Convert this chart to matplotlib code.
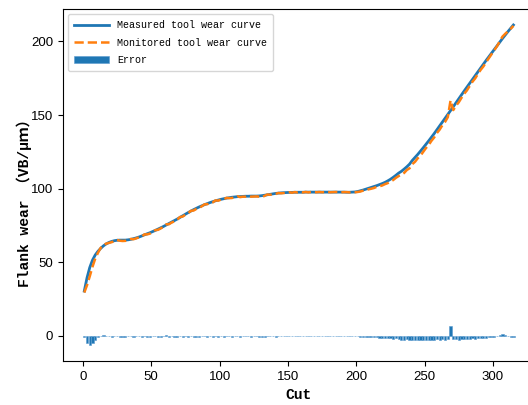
import numpy as np
import matplotlib
matplotlib.use("Agg")
import matplotlib.pyplot as plt

# Cut numbers (every second cut)
cuts = np.arange(1, 316, 2)

# Measured tool wear (VB, um)
measured = [
    30.5, 39.5, 46.5, 51.5, 55.0, 57.5, 59.5, 61.2, 62.5, 63.5,      # 1-19
    64.2, 64.7, 65.0, 65.1, 65.1, 65.1, 65.3, 65.6, 66.1, 66.6,      # 21-39
    67.2, 67.9, 68.7, 69.4, 70.1, 70.9, 71.7, 72.6, 73.5, 74.4,      # 41-59
    75.4, 76.4, 77.4, 78.4, 79.4, 80.5, 81.6, 82.7, 83.8, 84.8,      # 61-79
    85.8, 86.7, 87.6, 88.4, 89.2, 89.9, 90.6, 91.2, 91.8, 92.3,      # 81-99
    92.8, 93.2, 93.6, 93.9, 94.2, 94.4, 94.6, 94.7, 94.8, 94.9,      # 101-119
    94.9, 95.0, 95.0, 95.0, 95.1, 95.3, 95.6, 95.9, 96.2, 96.5,      # 121-139
    96.8, 97.0, 97.2, 97.3, 97.4, 97.5, 97.5, 97.6,                  # 141-155
    97.6, 97.6, 97.6, 97.7, 97.7, 97.7, 97.7, 97.7, 97.7, 97.7,      # 157-175
    97.7, 97.7, 97.7, 97.7, 97.7, 97.7, 97.7, 97.7, 97.6, 97.6,      # 177-195
    97.7, 97.8,                                                      # 197-199
    98.1, 98.6, 99.1, 99.7, 100.3, 100.9, 101.5, 102.1, 102.8, 103.5,  # 201-219
    104.3, 105.3, 106.4, 107.7, 109.1, 110.6, 111.8, 113.3, 114.9, 116.7,  # 221-239
    119.2, 121.2, 123.3, 125.5, 127.8, 130.1, 132.5, 134.9, 137.4, 140.0,  # 241-259
    142.6, 145.2, 147.8, 150.4, 153.0, 155.7, 158.4, 161.1, 163.8, 166.4,  # 261-279
    169.0, 171.6, 174.2, 176.8, 179.4, 182.0, 184.6, 187.1, 189.6, 192.1,  # 281-299
    194.6, 197.1, 199.6, 202.0, 204.4, 206.7, 209.0, 211.2,                # 301-315
]

# Monitoring error (monitored - measured)
error = [
    -1.0, -5.0, -6.0, -4.5, -2.5, -1.0, 0.3, 0.5, 0.2, -0.3,
    -0.5, -0.3, 0.2, -0.4, -0.6, -0.5, -0.2, 0.3, -0.4, -0.3,
    -0.2, -0.5, 0.3, -0.4, -0.6, -0.3, 0.2, -0.5, -0.4, -0.3,
    0.4, -0.5, -0.3, -0.6, -0.4, 0.3, -0.5, -0.3, -0.4, 0.2,
    -0.6, -0.4, -0.7, -0.3, 0.2, -0.4, -0.3, -0.5, 0.3, -0.4,
    -0.2, -0.5, 0.2, -0.3, -0.5, -0.2, 0.3, -0.4, -0.2, -0.3,
    0.2, -0.4, -0.3, -0.2, -0.5, -1.0, -0.4, 0.2, -0.3, -0.2,
    -0.4, 0.1, -0.3, -0.2, -0.1,
    0.1, -0.2, 0.1, -0.1, 0.2, -0.1, 0.1, -0.2, 0.1, 0.0,
    -0.1, 0.1, -0.1, 0.0, 0.1, -0.1, 0.0, 0.1, 0.0, -0.1,
    0.0, 0.1, -0.1, 0.0, -0.2,
    -0.3, -0.5, -0.4, -0.6, -0.7, -0.9, -1.0, -0.8, -1.1, -1.3,
    -1.2, -1.5, -1.6, -1.8, -1.7, -2.0, -2.4, -2.6, -2.2, -2.8,
    -2.5, -2.9, -2.6, -3.0, -2.7, -2.5, -2.8, -2.4, -2.6, -2.2,
    -2.5, -2.1, -2.4, -1.8, 7.0, -2.3, -2.0, -2.4, -2.1, -1.9,
    -2.2, -1.8, -1.6, -1.9, -1.5, -1.3, -1.6, -1.2, -1.0, -0.8,
    -0.6, -0.3, 0.4, 1.3, 0.8, 0.2, -0.4, -0.6,
]

measured = np.array(measured)
error = np.array(error)
monitored = measured + error

label_font = ['Liberation Mono', 'Noto Sans CJK SC', 'DejaVu Sans']

fig = plt.figure(figsize=(5.28, 4.05), dpi=100)
ax = fig.add_axes([0.119, 0.1086, 0.894, 0.869])

ax.plot(cuts, measured, color='#1f77b4', lw=2.0, label='Measured tool wear curve')
ax.plot(cuts, monitored, color='#ff7f0e', lw=1.8, ls='--', label='Monitored tool wear curve')
ax.bar(cuts, error, width=1.6, color='#1f77b4', edgecolor='#5b9bd0', linewidth=0.4,
       label='Error')

ax.set_xlim(-14.7, 330.7)
ax.set_ylim(-17, 222)
ax.set_xticks([0, 50, 100, 150, 200, 250, 300])
ax.set_yticks([0, 50, 100, 150, 200])
for t in ax.get_xticklabels() + ax.get_yticklabels():
    t.set_fontfamily('Liberation Sans')
    t.set_fontsize(9.5)

ax.set_xlabel('Cut', family=label_font, fontweight='bold', fontsize=10.5)
ax.set_ylabel('Flank wear （VB/μｍ）', family=label_font, fontweight='bold', fontsize=10.5)
ax.yaxis.set_label_coords(-0.066, 0.46)

leg = ax.legend(loc='upper left', prop={'family': label_font, 'size': 7.2},
                handlelength=3.5, labelspacing=0.75, borderpad=0.6)

fig.savefig('out.png', dpi=100)
